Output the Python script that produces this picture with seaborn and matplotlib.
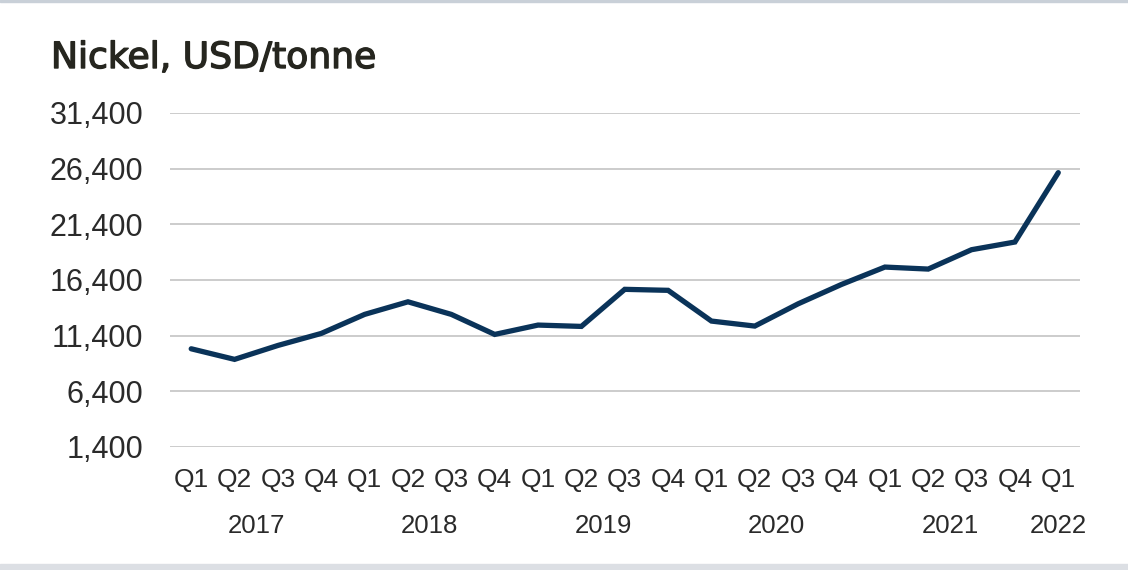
import matplotlib
matplotlib.use("Agg")
import matplotlib.pyplot as plt
import matplotlib.transforms as mtransforms
import matplotlib.patheffects as pe
from matplotlib.patches import Rectangle
import pandas as pd
import seaborn as sns

# data
quarters = ["Q1", "Q2", "Q3", "Q4"] * 5 + ["Q1"]
years = [2017] * 4 + [2018] * 4 + [2019] * 4 + [2020] * 4 + [2021] * 4 + [2022]
nickel = [10220, 9270, 10520, 11600, 13310, 14440, 13310, 11510,
          12350, 12230, 15560, 15470, 12710, 12260, 14260, 16000,
          17560, 17380, 19120, 19810, 26040]
y_ticks = [1400, 6400, 11400, 16400, 21400, 26400, 31400]

df = pd.DataFrame({"pos": range(len(nickel)), "quarter": quarters,
                   "year": years, "price": nickel})

sns.set_style("white")
plt.rcParams["font.family"] = ["Liberation Sans", "DejaVu Sans"]

fig = plt.figure(figsize=(11.28, 5.70), dpi=100)
ax = fig.add_axes([0.1503, 0.2158, 0.8071, 0.586])

sns.lineplot(data=df, x="pos", y="price", ax=ax, color="#0a3359",
             linewidth=3.8, solid_joinstyle="miter")

ax.set_xlim(-0.5, len(nickel) - 0.5)
ax.set_ylim(y_ticks[0], y_ticks[-1])
ax.set_yticks(y_ticks)
ax.set_yticklabels([f"{v:,}" for v in y_ticks])
ax.set_xticks(df["pos"])
ax.set_xticklabels(df["quarter"])
ax.yaxis.grid(True, color="#c4c4c4", linewidth=1.2)
ax.xaxis.grid(False)
ax.set_axisbelow(True)
for s in ax.spines.values():
    s.set_visible(False)
ax.tick_params(axis="y", length=0, pad=19, labelsize=22, labelcolor="#2a2a2a")
ax.tick_params(axis="x", length=0, pad=15, labelsize=19, labelcolor="#2a2a2a")
ax.set_xlabel("")
ax.set_ylabel("")

# year labels centred under each year's quarters
trans = mtransforms.blended_transform_factory(ax.transData, ax.transAxes)
for yr, grp in df.groupby("year"):
    ax.text(grp["pos"].mean(), -0.2365, str(yr), transform=trans,
            ha="center", va="center", fontsize=18.5, color="#2a2a2a")

title = fig.text(51 / 1128, 1 - 68 / 570, "Nickel, USD/tonne", fontsize=26,
                 family="DejaVu Sans", color="#26261f", ha="left", va="baseline")
title.set_path_effects([pe.withStroke(linewidth=1.0, foreground="#26261f")])

# thin frame lines at top and bottom
fig.patches.append(Rectangle((0, 1 - 2 / 570), 1, 2 / 570, transform=fig.transFigure,
                             color="#c9d0d8", zorder=0))
fig.patches.append(Rectangle((0, 0), 1, 6 / 570, transform=fig.transFigure,
                             color="#dcdfe4", zorder=0))

fig.savefig("out.png", dpi=100)
